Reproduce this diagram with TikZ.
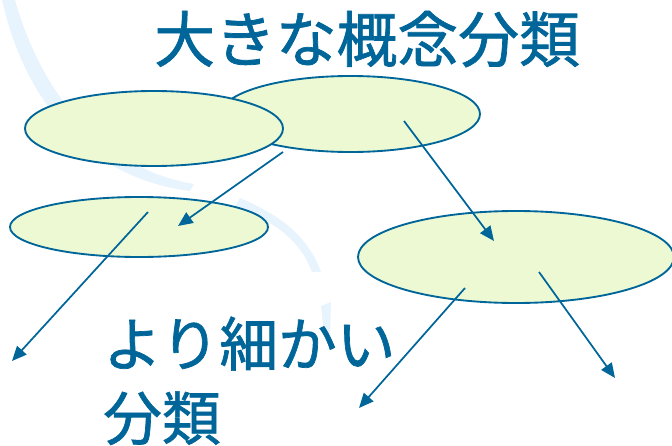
\documentclass[tikz,border=0pt]{standalone}
\usepackage{fontspec}
\newfontfamily\jp[FakeBold=1.2]{Noto Sans CJK JP}
\usetikzlibrary{arrows.meta,shapes.geometric}
\definecolor{dblue}{RGB}{0,102,153}
\definecolor{efill}{RGB}{236,249,211}
\definecolor{swoosh}{RGB}{232,244,253}
\tikzset{
  ell/.style={ellipse, draw=dblue, line width=1.4pt, fill=efill, inner sep=0pt, outer sep=0pt},
  arr/.style={draw=dblue, line width=1.3pt, -{Triangle[length=11pt,width=9.5pt]}},
  ttl/.style={text=dblue, inner sep=0pt, anchor=base west},
}
\begin{document}
\begin{tikzpicture}[x=0.75pt,y=-0.75pt]
\useasboundingbox (0,0) rectangle (672,446);
% decorative swoosh
\fill[swoosh] (2,0) .. controls (28,115) and (100,180) .. (190,191) -- (194,184)
  .. controls (110,170) and (45,105) .. (15,0) -- cycle;
\fill[swoosh] (235,206) .. controls (275,222) and (300,240) .. (312,272) -- (321,272)
  .. controls (308,236) and (280,215) .. (240,198) -- cycle;
\fill[swoosh] (321,306) -- (331,302) -- (330,334) -- (324,334) -- cycle;
% ellipses
\node[ell, minimum width=194.25pt, minimum height=57pt] (e2) at (350.5,114) {};
\node[ell, minimum width=193.5pt, minimum height=56.25pt] (e1) at (154,128.5) {};
\node[ell, minimum width=193.5pt, minimum height=45pt] (e3) at (139,227) {};
\node[ell, minimum width=237pt, minimum height=69pt] (e4) at (516,257) {};
% arrow end points
\coordinate (a1s) at (283,152); \coordinate (a1e) at (178,226);
\coordinate (a2s) at (404,121); \coordinate (a2e) at (494,241);
\coordinate (a3s) at (148,212); \coordinate (a3e) at (12,361);
\coordinate (a4s) at (465,288); \coordinate (a4e) at (359,408);
\coordinate (a5s) at (539,272); \coordinate (a5e) at (615,378);
\draw[arr] (a1s) -- (a1e);
\draw[arr] (a2s) -- (a2e);
\draw[arr] (a3s) -- (a3e);
\draw[arr] (a4s) -- (a4e);
\draw[arr] (a5s) -- (a5e);
% texts
\node[ttl, font=\jp\fontsize{45.6}{54}\selectfont] (t1) at (154,62) {大きな概念分類};
\node[ttl, font=\jp\fontsize{44}{50}\selectfont] (t2) at (103,366) {より細かい};
\node[ttl, font=\jp\fontsize{44}{50}\selectfont] (t3) at (103,440) {分類};
\end{tikzpicture}
\end{document}
